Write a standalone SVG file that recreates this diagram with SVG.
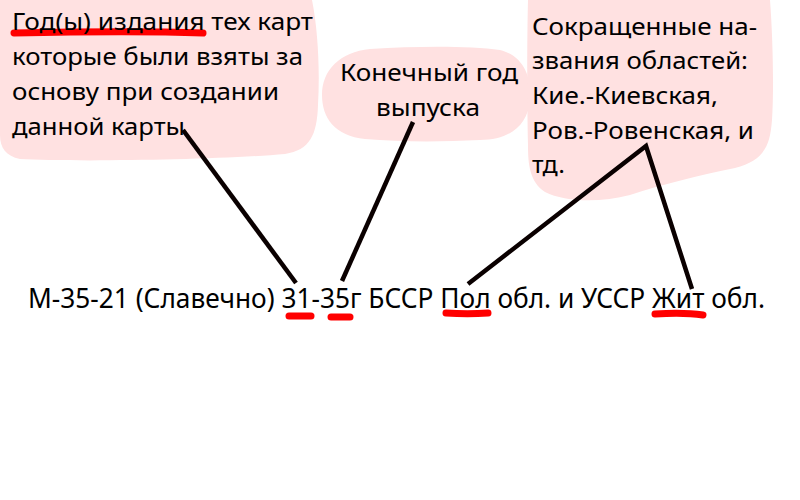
<svg xmlns="http://www.w3.org/2000/svg" width="800" height="500" viewBox="0 0 800 500">
<style>
.blob{fill:#ffe1e1;stroke:none}
.t{font-family:"Noto Sans","Open Sans",sans-serif;fill:#000}
.s{font-size:24px}
.m{font-size:27px}
.u{stroke:#ff0000;stroke-width:7;stroke-linecap:round;fill:none}
.c{stroke:#0a0000;stroke-width:4.5;fill:none;stroke-linecap:butt}
</style>
<rect width="800" height="500" fill="#fff"/>
<g id="node-left">
<path class="blob" d="M0,0 L312,0 C318,30 320,70 318,105 C317,135 310,150 285,154 C220,160 70,162 20,159 C6,156 0,148 0,135 Z"/>
<path class="u" d="M14,33 C60,32 150,31 203,33"/>
<text class="t s" x="12" y="30" textLength="301" lengthAdjust="spacingAndGlyphs">Год(ы) издания тех карт</text>
<text class="t s" x="12" y="65" textLength="291" lengthAdjust="spacingAndGlyphs">которые были взяты за</text>
<text class="t s" x="12" y="100" textLength="267" lengthAdjust="spacingAndGlyphs">основу при создании</text>
<text class="t s" x="12" y="135" textLength="173" lengthAdjust="spacingAndGlyphs">данной карты</text>
</g>
<g id="node-middle">
<path class="blob" d="M370,49 C420,46 470,46 500,50 C525,56 532,80 530,100 C528,125 510,140 480,140 C440,142 400,142 365,139 C335,136 322,118 322,95 C322,70 340,52 370,49 Z"/>
<text class="t s" x="340" y="81" textLength="178" lengthAdjust="spacingAndGlyphs">Конечный год</text>
<text class="t s" x="376" y="116" textLength="104" lengthAdjust="spacingAndGlyphs">выпуска</text>
</g>
<g id="node-right">
<path class="blob" d="M528,0 L770,0 C773,40 774,90 772,120 C770,145 765,160 735,168 C700,175 660,185 630,195 C600,203 565,202 545,192 C530,182 528,165 528,145 C527,100 527,40 528,0 Z"/>
<text class="t s" x="532" y="35" textLength="225" lengthAdjust="spacingAndGlyphs">Сокращенные на-</text>
<text class="t s" x="532" y="69" textLength="216" lengthAdjust="spacingAndGlyphs">звания областей:</text>
<text class="t s" x="532" y="104" textLength="186" lengthAdjust="spacingAndGlyphs">Кие.-Киевская,</text>
<text class="t s" x="532" y="139" textLength="222" lengthAdjust="spacingAndGlyphs">Ров.-Ровенская, и</text>
<text class="t s" x="532" y="173" textLength="33" lengthAdjust="spacingAndGlyphs">тд.</text>
</g>
<g id="node-main">
<path class="u" d="M289,316 L311,316"/>
<path class="u" d="M331,317 L350,317"/>
<path class="u" d="M446,313 C460,314 475,314 488,313"/>
<path class="u" d="M655,314 C670,313 690,313 703,315"/>
<text class="t m" x="28" y="308" textLength="737" lengthAdjust="spacingAndGlyphs">М-35-21 (Славечно) 31-35г БССР Пол обл. и УССР Жит обл.</text>
</g>
<g id="connectors">
<path class="c" d="M183,130 L296,283"/>
<path class="c" d="M413,122 L342,281"/>
<path class="c" d="M468,284 L646,146 L692,289"/>
</g>
</svg>
